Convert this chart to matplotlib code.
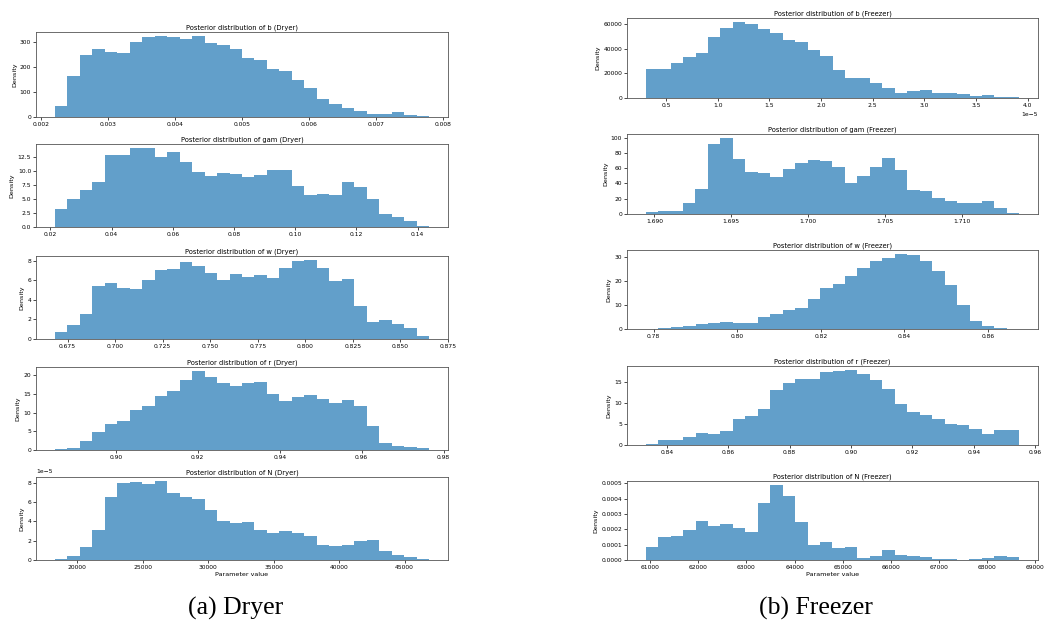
import numpy as np
import matplotlib
matplotlib.use("Agg")
import matplotlib.pyplot as plt
from matplotlib.ticker import MultipleLocator

# ---------------- data ----------------
# Dryer
dryer_b_range = (0.00221, 0.00779)
dryer_b = [45, 163, 250, 275, 262, 258, 300, 320, 325, 322, 315, 325, 298, 290, 275,
           237, 228, 193, 185, 150, 115, 72, 53, 35, 25, 12, 12, 22, 7, 3]

dryer_gam_range = (0.0214, 0.1438)
dryer_gam = [3.3, 5.0, 6.7, 8.0, 12.9, 12.9, 14.1, 14.15, 12.6, 13.4, 11.6, 9.8, 9.2, 9.6, 9.4,
             9.0, 9.3, 10.2, 10.2, 7.3, 5.7, 5.9, 5.7, 8.0, 7.1, 5.0, 2.3, 1.8, 1.0, 0.25]

dryer_w_range = (0.6682, 0.8652)
dryer_w = [0.67, 1.47, 2.57, 5.4, 5.73, 5.17, 5.07, 6.07, 7.0, 7.13, 7.83, 7.5, 6.77, 6.03, 6.67,
           6.37, 6.57, 6.23, 7.27, 7.93, 8.07, 7.23, 5.97, 6.17, 3.33, 1.77, 1.9, 1.5, 1.1, 0.33]

dryer_r_range = (0.8851, 0.9765)
dryer_r = [0.18, 0.6, 2.5, 4.8, 7.0, 7.7, 10.8, 11.8, 14.5, 15.9, 18.7, 21.2, 19.6, 18.1, 17.1,
           18.1, 18.3, 15.1, 13.2, 14.1, 14.7, 13.8, 12.6, 13.4, 11.9, 6.4, 1.8, 1.2, 0.7, 0.45]

dryer_N_range = (18280, 46890)
dryer_N = [0.1, 0.38, 1.33, 3.08, 6.46, 7.97, 8.03, 7.9, 8.17, 6.97, 6.56, 6.26, 5.16, 4.07, 3.8,
           3.9, 3.15, 2.84, 3.0, 2.77, 2.46, 1.54, 1.47, 1.57, 1.95, 2.08, 0.9, 0.55, 0.3, 0.1]  # x1e-5

# Freezer
freezer_b_range = (0.302e-5, 3.918e-5)
freezer_b = [23.4, 23.8, 28.3, 33.4, 36.1, 49.4, 56.8, 61.7, 60.3, 56.2, 53.0, 47.0, 45.3, 38.8, 33.7,
             22.8, 15.8, 16.3, 12.5, 8.2, 3.8, 5.7, 6.2, 3.8, 3.8, 3.3, 1.9, 2.4, 1.1, 0.5]  # x1000

freezer_gam_range = (1.68944, 1.71372)
freezer_gam = [3, 4.4, 3.5, 14, 33, 91, 99.6, 72.5, 55, 54, 49, 58.5, 67, 70.7, 69,
               62, 40.6, 50, 61, 73, 57, 31.4, 29.7, 20.5, 16.6, 14.4, 14.8, 17, 7.4, 1.7]

freezer_w_range = (0.7781, 0.8675)
freezer_w = [0.05, 0.3, 1.0, 1.2, 1.9, 2.5, 3.0, 2.6, 2.6, 4.8, 6.1, 8.0, 8.9, 12.4, 16.9,
             18.7, 21.9, 25.3, 28.2, 29.7, 31.3, 30.8, 28.1, 24.3, 18.3, 10.1, 3.3, 1.4, 0.3, 0.05]

freezer_r_range = (0.8331, 0.9548)
freezer_r = [0.3, 1.2, 1.2, 1.8, 2.8, 2.5, 3.2, 6.1, 6.8, 8.5, 13.0, 14.6, 15.7, 15.7, 17.3,
             17.5, 17.8, 16.7, 15.3, 13.2, 9.6, 7.9, 7.1, 6.1, 4.9, 4.7, 3.8, 2.5, 3.5, 3.5]

freezer_N_range = (60910, 68667)
freezer_N = [0.83, 1.52, 1.59, 1.96, 2.54, 2.24, 2.33, 2.07, 1.8, 3.7, 4.91, 4.2, 2.46, 0.96, 1.15,
             0.78, 0.85, 0.15, 0.24, 0.63, 0.35, 0.26, 0.2, 0.09, 0.07, 0.02, 0.07, 0.15, 0.24, 0.17]  # x1e-4

params = ["b", "gam", "w", "r", "N"]
dryer_data = [(dryer_b_range, dryer_b, 1.0), (dryer_gam_range, dryer_gam, 1.0),
              (dryer_w_range, dryer_w, 1.0), (dryer_r_range, dryer_r, 1.0),
              (dryer_N_range, dryer_N, 1e-5)]
freezer_data = [(freezer_b_range, freezer_b, 1000.0), (freezer_gam_range, freezer_gam, 1.0),
                (freezer_w_range, freezer_w, 1.0), (freezer_r_range, freezer_r, 1.0),
                (freezer_N_range, freezer_N, 1e-4)]

# y tick steps where the reference differs from auto locator
dryer_ystep = [100, 2.5, None, None, None]
freezer_ystep = [None, None, None, None, None]

captions = ["(a) Dryer", "(b) Freezer"]

# ---------------- layout ----------------
W, H = 1047, 631
fig = plt.figure(figsize=(W / 100, H / 100), dpi=100)

left_col = (36, 448)
left_rows = [(32, 117), (144, 227), (256, 339), (367, 450), (477, 560)]
right_col = (627, 1038)
right_rows = [(18, 98), (134, 214), (250, 329), (366, 445), (481, 560)]

TICK_FS = 4.3
TITLE_FS = 4.9
LABEL_FS = 4.6


def make_ax(col, row):
    x0, x1 = col
    y0, y1 = row
    return fig.add_axes([x0 / W, 1 - y1 / H, (x1 - x0) / W, (y1 - y0) / H])


def draw(ax, rng, heights, scale, title, last, ystep):
    edges = np.linspace(rng[0], rng[1], len(heights) + 1)
    centers = 0.5 * (edges[:-1] + edges[1:])
    ax.hist(centers, bins=edges, weights=np.array(heights) * scale,
            color="tab:blue", alpha=0.7, histtype="stepfilled", linewidth=0)
    if ystep is not None:
        ax.yaxis.set_major_locator(MultipleLocator(ystep))
    ax.set_title(title, fontsize=TITLE_FS, pad=2)
    ax.set_ylabel("Density", fontsize=LABEL_FS, labelpad=2)
    ax.tick_params(labelsize=TICK_FS, length=2, width=0.5, pad=1.5)
    for s in ax.spines.values():
        s.set_linewidth(0.6)
        s.set_color("#555555")
    ax.xaxis.get_offset_text().set_fontsize(TICK_FS)
    ax.yaxis.get_offset_text().set_fontsize(TICK_FS)
    if last:
        ax.set_xlabel("Parameter value", fontsize=LABEL_FS, labelpad=1.5)


for i, (p, (rng, h, sc)) in enumerate(zip(params, dryer_data)):
    ax = make_ax(left_col, left_rows[i])
    draw(ax, rng, h, sc, f"Posterior distribution of {p} (Dryer)", i == 4, dryer_ystep[i])

for i, (p, (rng, h, sc)) in enumerate(zip(params, freezer_data)):
    ax = make_ax(right_col, right_rows[i])
    draw(ax, rng, h, sc, f"Posterior distribution of {p} (Freezer)", i == 4, freezer_ystep[i])

fig.text(236 / W, 1 - 608 / H, captions[0], fontsize=18.5,
         family="Liberation Serif", ha="center", va="center")
fig.text(816 / W, 1 - 608 / H, captions[1], fontsize=18.5,
         family="Liberation Serif", ha="center", va="center")

fig.savefig("out.png", dpi=100)
